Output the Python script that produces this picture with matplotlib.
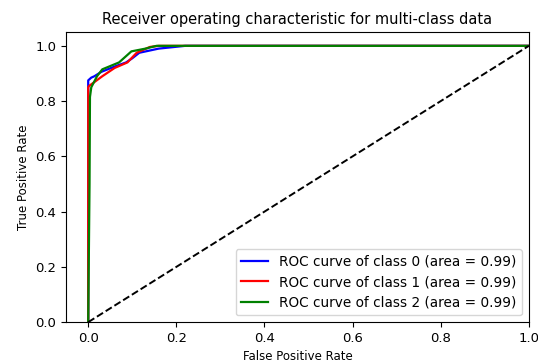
import matplotlib.pyplot as plt

# ROC curves
fpr0 = [0.0, 0.0, 0.0, 0.007, 0.014, 0.03, 0.06, 0.086, 0.1, 0.116, 0.16, 0.22, 0.4, 1.0]
tpr0 = [0.0, 0.70, 0.875, 0.885, 0.89, 0.906, 0.925, 0.94, 0.955, 0.975, 0.99, 1.0, 1.0, 1.0]
fpr1 = [0.0, 0.0, 0.0, 0.002, 0.015, 0.032, 0.06, 0.089, 0.11, 0.14, 0.16, 1.0]
tpr1 = [0.0, 0.60, 0.85, 0.855, 0.87, 0.89, 0.92, 0.94, 0.975, 0.996, 1.0, 1.0]
fpr2 = [0.0, 0.003, 0.004, 0.007, 0.02, 0.032, 0.07, 0.098, 0.13, 0.155, 1.0]
tpr2 = [0.0, 0.50, 0.815, 0.85, 0.89, 0.915, 0.94, 0.98, 0.99, 1.0, 1.0]
areas = [0.99, 0.99, 0.99]
colors = ['blue', 'red', 'green']

fig = plt.figure(figsize=(5.38, 3.64), dpi=100)
ax = fig.add_subplot(1, 1, 1)
curves = [(fpr0, tpr0), (fpr1, tpr1), (fpr2, tpr2)]
for i, (f, t) in enumerate(curves):
    ax.plot(f, t, color=colors[i], lw=1.6,
            label='ROC curve of class {0} (area = {1:0.2f})'.format(i, areas[i]))
ax.plot([0, 1], [0, 1], 'k--', lw=1.4)
ax.set_xlim([-0.05, 1.0])
ax.set_ylim([0.0, 1.05])
ax.tick_params(labelsize=9.5)
ax.set_xlabel('False Positive Rate', fontsize=8.5)
ax.set_ylabel('True Positive Rate', fontsize=8.5)
ax.set_title('Receiver operating characteristic for multi-class data', fontsize=10.5)
ax.legend(loc='lower right', fontsize=9.8)
fig.subplots_adjust(left=0.123, right=0.983, top=0.912, bottom=0.115)
fig.savefig('out.png')
